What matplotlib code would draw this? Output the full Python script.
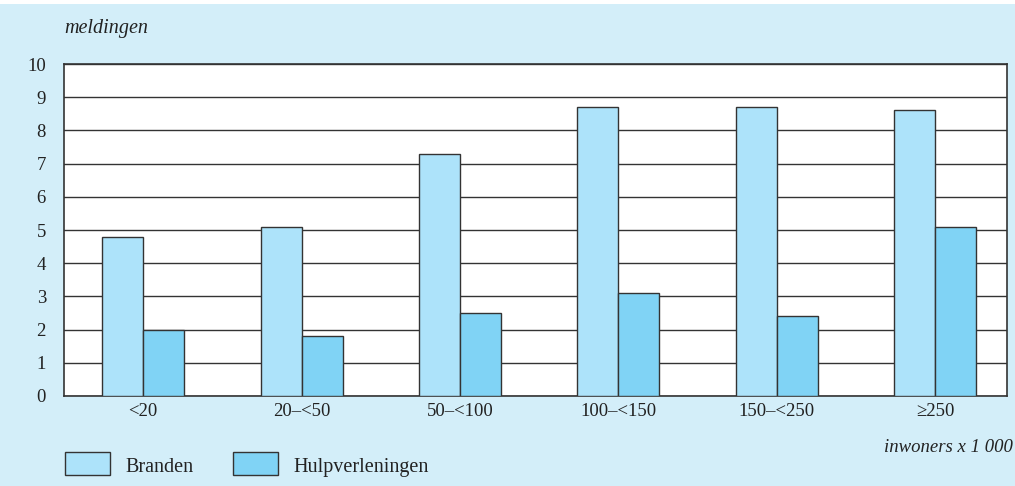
import matplotlib.pyplot as plt
import matplotlib.patches as mpatches
import numpy as np

categories = ["<20", "20\u2013<50", "50\u2013<100", "100\u2013<150", "150\u2013<250", "\u2265250"]
branden = [4.8, 5.1, 7.3, 8.7, 8.7, 8.6]
hulp = [2.0, 1.8, 2.5, 3.1, 2.4, 5.1]

bg = "#d3eef9"
c_branden = "#ade3fa"
c_hulp = "#80d3f5"
edge = "#333333"

plt.rcParams['font.family'] = ['Liberation Serif', 'DejaVu Serif']

fig = plt.figure(figsize=(10.15, 4.86), dpi=100, facecolor=bg)
# white strip at the very top
fig.patches.append(mpatches.Rectangle((0, 1 - 4 / 486), 1, 4 / 486, transform=fig.transFigure,
                                      facecolor="white", edgecolor="none"))
ax = fig.add_axes([64 / 1015, 1 - 396 / 486, 943 / 1015, 332 / 486])
ax.set_facecolor("white")

x = np.arange(len(categories))
w = 0.259
ax.bar(x - w / 2, branden, w, color=c_branden, edgecolor=edge, linewidth=1.0, zorder=3)
ax.bar(x + w / 2, hulp, w, color=c_hulp, edgecolor=edge, linewidth=1.0, zorder=3)

ax.set_xlim(-0.5, 5.455)
ax.set_ylim(0, 10)
ax.set_yticks(range(0, 11))
ax.set_xticks(x)
ax.set_xticklabels(categories)
ax.tick_params(length=0, labelsize=13.5, colors="#222222", pad=5)
ax.tick_params(axis='y', pad=13)
ax.yaxis.grid(True, color=edge, linewidth=1.0, zorder=0)
ax.set_axisbelow(True)
for s in ax.spines.values():
    s.set_color(edge)
    s.set_linewidth(1.2)

fig.text(64 / 1015, 1 - 28 / 486, "meldingen", style="italic", fontsize=14.5,
         color="#222222", va="center", ha="left")
fig.text(1013 / 1015, 1 - 447 / 486, "inwoners x 1 000", style="italic", fontsize=13.5,
         color="#222222", va="center", ha="right")

# legend
for x0, col, label in [(65, c_branden, "Branden"), (233, c_hulp, "Hulpverleningen")]:
    fig.patches.append(mpatches.Rectangle((x0 / 1015, 1 - 475 / 486), 45 / 1015, 23 / 486,
                                          transform=fig.transFigure, facecolor=col,
                                          edgecolor=edge, linewidth=1.0))
    fig.text((x0 + 60) / 1015, 1 - 467 / 486, label, fontsize=14.5, color="#222222",
             va="center", ha="left")

fig.savefig("out.png", dpi=100, facecolor=bg)
